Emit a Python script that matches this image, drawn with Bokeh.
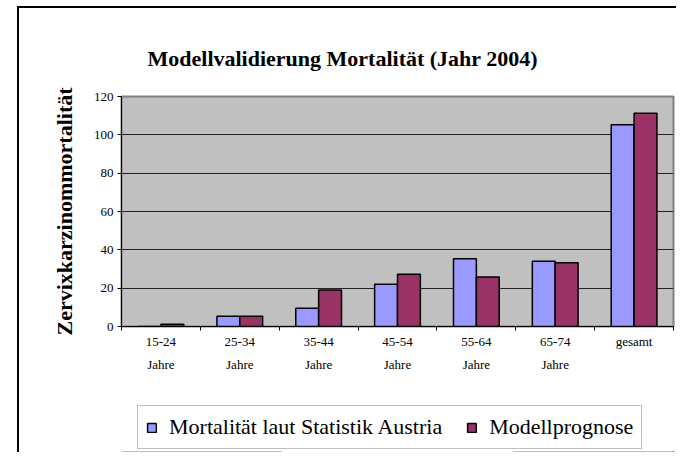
from bokeh.plotting import figure
from bokeh.layouts import column
from bokeh.models import (Range1d, LinearAxis, FixedTicker,
                          ColumnDataSource, Legend, LegendItem)
from bokeh.transform import dodge
from bokeh.embed import file_html
from bokeh.resources import INLINE

categories = ["15-24", "25-34", "35-44", "45-54", "55-64", "65-74", "gesamt"]
cat_labels = ["15-24\nJahre", "25-34\nJahre", "35-44\nJahre", "45-54\nJahre",
              "55-64\nJahre", "65-74\nJahre", "gesamt"]
statistik = [0, 5.3, 9.5, 22, 35.3, 34, 105.2]
prognose = [1.2, 5.3, 19, 27.2, 25.8, 33.2, 111.3]
series_names = ["Mortalität laut Statistik Austria", "Modellprognose"]
series_colors = ["#9999ff", "#993366"]
y_ticks = [0, 20, 40, 60, 80, 100, 120]

SERIF = "Liberation Serif"
n = len(categories)
idx = list(range(n))

source = ColumnDataSource(dict(idx=idx, cat=categories, statistik=statistik, prognose=prognose))

p = figure(width=657, height=395, x_range=Range1d(-0.5, n - 0.5),
           y_range=Range1d(0, 120), output_backend="svg", toolbar_location=None,
           x_axis_location=None, y_axis_location="left",
           min_border_left=102, min_border_right=3, min_border_top=88, min_border_bottom=77)

p.background_fill_color = "#c0c0c0"
p.border_fill_color = "white"
p.outline_line_color = "#808080"
p.outline_line_width = 2

p.title.text = "Modellvalidierung Mortalität (Jahr 2004)"
p.title.text_font = SERIF
p.title.text_font_style = "bold"
p.title.text_font_size = "22px"
p.title.text_color = "#000000"
p.title.align = "left"
p.title.offset = 26
p.title.standoff = 52

p.xgrid.visible = False
p.ygrid.grid_line_color = "#222222"
p.ygrid.grid_line_width = 1.2
p.ygrid.ticker = FixedTicker(ticks=y_ticks)

ya = p.yaxis[0]
ya.ticker = FixedTicker(ticks=y_ticks)
ya.axis_label = "Zervixkarzinommortalität"
ya.axis_label_text_font = SERIF
ya.axis_label_text_font_style = "bold"
ya.axis_label_text_font_size = "22px"
ya.axis_label_text_color = "#000000"
ya.axis_label_standoff = 14
ya.major_label_text_font = SERIF
ya.major_label_text_font_size = "13px"
ya.major_label_text_color = "#000000"
ya.major_label_standoff = 4
ya.major_tick_in = 0
ya.major_tick_out = 4
ya.minor_tick_line_color = None
ya.axis_line_color = "#000"
ya.major_tick_line_color = "#000"

# tick axis at category boundaries
ta = LinearAxis(ticker=FixedTicker(ticks=[i - 0.5 for i in range(n + 1)]))
ta.major_tick_in = 0
ta.major_tick_out = 4
ta.minor_tick_out = 0
ta.minor_tick_line_color = None
ta.major_label_text_font_size = "0px"
ta.major_label_standoff = 0
ta.axis_line_color = "#000"
p.add_layout(ta, "below")

ca = LinearAxis(ticker=FixedTicker(ticks=idx))
ca.major_label_overrides = dict(zip(idx, cat_labels))
ca.major_label_text_font = SERIF
ca.major_label_text_font_size = "13px"
ca.major_label_text_color = "#000000"
ca.major_label_text_line_height = 1.55
ca.major_tick_line_color = None
ca.minor_tick_line_color = None
ca.major_tick_out = 0
ca.minor_tick_out = 0
ca.axis_line_color = None
ca.major_label_standoff = 3
p.add_layout(ca, "below")

p.vbar(x=dodge("idx", -0.145), top="statistik", width=0.29, source=source,
       fill_color=series_colors[0], line_color="#000", line_width=1.5)
p.vbar(x=dodge("idx", 0.145), top="prognose", width=0.29, source=source,
       fill_color=series_colors[1], line_color="#000", line_width=1.5)

# legend strip below the chart (same glyph styles; bars lie outside its view)
q = figure(width=657, height=49, x_range=Range1d(0, 1), y_range=Range1d(1000, 1001),
           output_backend="svg", toolbar_location=None,
           x_axis_location=None, y_axis_location=None,
           min_border_left=0, min_border_right=0, min_border_top=0, min_border_bottom=0)
q.outline_line_color = None
q.background_fill_color = "white"
q.border_fill_color = "white"
q.xgrid.visible = False
q.ygrid.visible = False
l1 = q.vbar(x=dodge("idx", -0.145), top="statistik", width=0.29, source=source,
            fill_color=series_colors[0], line_color="#000", line_width=1.5)
l2 = q.vbar(x=dodge("idx", 0.145), top="prognose", width=0.29, source=source,
            fill_color=series_colors[1], line_color="#000", line_width=1.5)

legend = Legend(items=[LegendItem(label=series_names[0], renderers=[l1]),
                       LegendItem(label=series_names[1], renderers=[l2])],
                location=(16, 3), orientation="horizontal")
legend.label_text_font = "'Liberation Serif', serif"
legend.label_text_font_size = "22px"
legend.label_text_color = "#000000"
legend.glyph_width = 11
legend.glyph_height = 11
legend.label_standoff = 12
legend.spacing = 24
legend.padding = 8
legend.margin = 0
legend.border_line_color = "#808080"
legend.border_line_width = 1.5
legend.background_fill_color = "white"
q.add_layout(legend, "center")

layout = column(p, q, spacing=0)
layout.styles = {"margin-left": "17px", "margin-top": "6px",
                 "border-left": "2px solid #000", "border-top": "2px solid #000"}

open("out.html", "w").write(file_html(layout, INLINE))
